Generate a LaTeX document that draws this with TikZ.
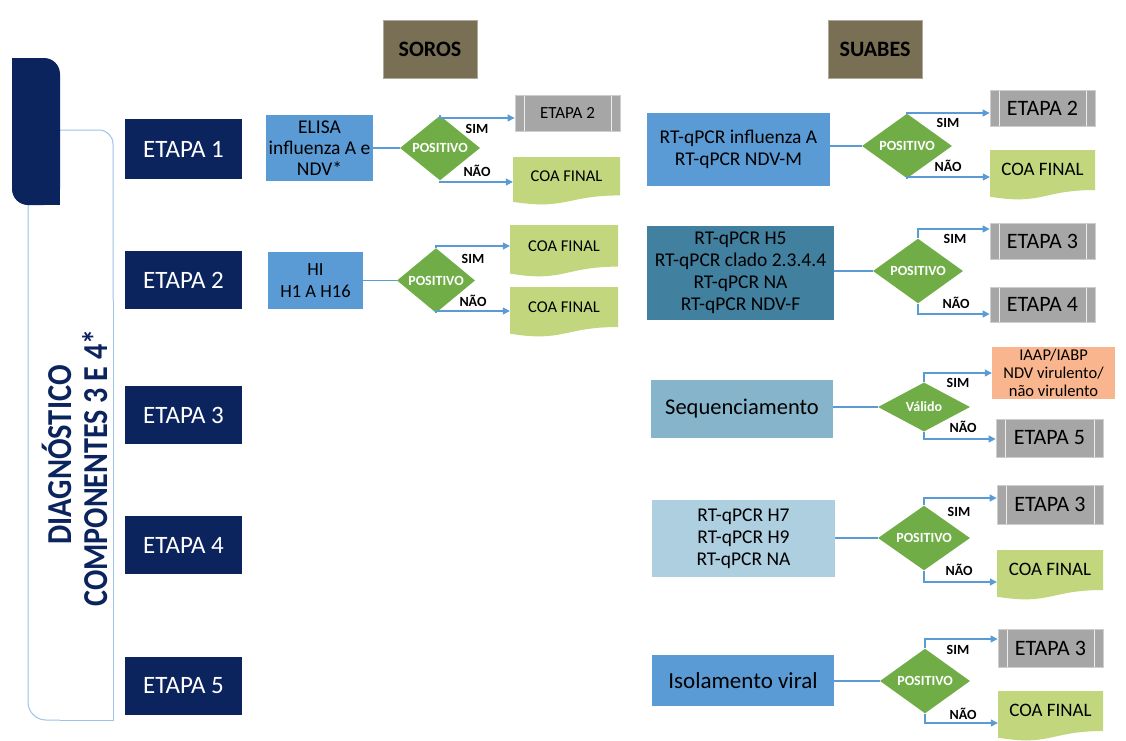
\documentclass[tikz,border=0pt]{standalone}
\usepackage{fontspec}
\setmainfont{Carlito}
\usetikzlibrary{shapes.geometric,arrows.meta,calc}
\definecolor{navy}{RGB}{12,36,94}
\definecolor{olivebox}{RGB}{120,111,85}
\definecolor{mblue}{RGB}{91,155,213}
\definecolor{tblue}{RGB}{65,128,158}
\definecolor{sblue}{RGB}{134,181,203}
\definecolor{lblue}{RGB}{174,207,224}
\definecolor{dgreen}{RGB}{112,173,71}
\definecolor{lgreen}{RGB}{194,214,126}
\definecolor{gbox}{RGB}{166,166,166}
\definecolor{salmon}{RGB}{248,181,142}
\definecolor{conn}{RGB}{91,155,213}
\definecolor{outl}{RGB}{157,195,230}
\newcommand\fsz[2]{\fontsize{#1}{#2}\selectfont}
\tikzset{
  etapa/.style={fill=navy, text=white, minimum width=117pt, minimum height=58pt, inner sep=0pt, font=\fsz{25}{30}},
  hdr/.style={fill=olivebox, draw=olivebox!60!white, line width=0.6pt, minimum width=94pt, minimum height=58pt, inner sep=0pt, font=\fsz{22}{26}\bfseries},
  test/.style={inner sep=0pt, align=center, text=black},
  dec/.style={diamond, fill=dgreen, text=white, inner sep=0pt, font=\fsz{14}{16}\bfseries},
  yn/.style={inner sep=0pt, font=\fsz{14}{17}\bfseries, text=black},
  graybox/.style={fill=gbox, draw=gbox!55!white, line width=0.8pt, inner sep=0pt,
    path picture={
      \draw[white!80!gbox, line width=0.9pt] ([xshift=9pt]path picture bounding box.north west) -- ([xshift=9pt]path picture bounding box.south west);
      \draw[white!80!gbox, line width=0.9pt] ([xshift=-9pt]path picture bounding box.north east) -- ([xshift=-9pt]path picture bounding box.south east);}},
  coa/.style={fill=white, inner sep=0pt, text depth=10pt,
    path picture={
      \fill[lgreen] (path picture bounding box.north west) -- (path picture bounding box.north east)
        -- ($(path picture bounding box.north east)!0.80!(path picture bounding box.south east)$)
        .. controls ($(path picture bounding box.north)!0.80!(path picture bounding box.south)$)
        and ($(path picture bounding box.north)!1.107!(path picture bounding box.south)$)
        .. ($(path picture bounding box.north west)!0.934!(path picture bounding box.south west)$) -- cycle;}},
  ln/.style={draw=conn, line width=1.1pt},
  arr/.style={draw=conn, line width=1.1pt, -{Triangle[length=7pt,width=7pt]}}
}
\begin{document}
\begin{tikzpicture}[x=1pt,y=-1pt]
\useasboundingbox (0,0) rectangle (1126,740);
\fill[white] (0,0) rectangle (1126,740);

% left panel
\draw[outl, line width=1pt, rounded corners=14pt] (60,130) -- (113,130) -- (113,300);
\draw[outl, line width=1pt] (113,300) -- (113,720) -- (60,720);
\draw[outl, line width=1pt, rounded corners=18pt] (60,720) -- (28,720) -- (28,205);
\fill[navy, rounded corners=16pt] (12,58) rectangle (60,205);
\fill[navy] (12,58) rectangle (35,90);
\fill[navy] (40,180) rectangle (60,205);
\node[rotate=90, text=navy, inner sep=0pt, font=\fsz{35}{40}\bfseries] (t1) at (57,455) {\scalebox{0.87}[1]{DIAGNÓSTICO}};
\node[rotate=90, text=navy, inner sep=0pt, font=\fsz{35}{40}\bfseries] (t2) at (95,468) {\scalebox{0.86}[1]{COMPONENTES 3 E 4*}};

% etapas
\node[etapa, minimum height=60pt] (e1) at (183.5,149) {ETAPA 1};
\node[etapa] (e2) at (183.5,280) {ETAPA 2};
\node[etapa] (e3) at (183.5,415) {ETAPA 3};
\node[etapa] (e4) at (183.5,545) {ETAPA 4};
\node[etapa] (e5) at (183.5,686) {ETAPA 5};

% headers
\node[hdr] (soros) at (430,49) {SOROS};
\node[hdr] (suabes) at (875,49) {SUABES};

% ---- SOROS row 1
\node[test, fill=mblue, minimum width=107pt, minimum height=66pt, font=\fsz{19.5}{21}] (b1) at (319.5,148) {ELISA\\influenza A e\\NDV*};
\node[dec, minimum width=80pt, minimum height=48pt] (d1) at (440,148) {POSITIVO};
\node[graybox, minimum width=105pt, minimum height=36pt, font=\fsz{17}{20}] (g1) at (567.5,113) {ETAPA 2};
\node[coa, minimum width=107pt, minimum height=48pt, font=\fsz{16.5}{20}, text height=10.6pt] (c1) at (566.5,181) {COA FINAL};
\draw[ln] (b1.east) -- (d1.west);
\draw[arr] (d1.north) |- ([yshift=-5pt]g1.west);
\draw[arr] (d1.south) |- ([yshift=-1pt]c1.west);
\node[yn] (y1) at (477,129) {SIM};
\node[yn] (n1) at (477,171) {NÃO};

% ---- SOROS row 2
\node[test, fill=mblue, minimum width=95pt, minimum height=57pt, font=\fsz{18.5}{22}] (b2) at (315.5,280.5) {HI\\H1 A H16};
\node[dec, minimum width=78pt, minimum height=50pt] (d2) at (436,280.5) {POSITIVO};
\node[coa, minimum width=108pt, minimum height=52pt, font=\fsz{16.5}{20}, text height=10.6pt] (c2a) at (564,251) {COA FINAL};
\node[coa, minimum width=108pt, minimum height=50pt, font=\fsz{16.5}{20}, text height=10.6pt] (c2b) at (564,312) {COA FINAL};
\draw[ln] (b2.east) -- (d2.west);
\draw[arr] (d2.north) |- ([yshift=5pt]c2a.west);
\draw[arr] (d2.south) |- ([yshift=1pt]c2b.west);
\node[yn] (y2) at (473,259) {SIM};
\node[yn] (n2) at (473,301) {NÃO};

% ---- SUABES row 1
\node[test, fill=mblue, minimum width=183pt, minimum height=73pt, font=\fsz{19.5}{22}] (s1) at (738.5,149.5) {RT-qPCR influenza A\\RT-qPCR NDV-M};
\node[dec, minimum width=90pt, minimum height=50pt] (ds1) at (907,146) {POSITIVO};
\node[graybox, minimum width=105pt, minimum height=36pt, font=\fsz{22}{26}] (sg1) at (1042.5,108) {ETAPA 2};
\node[coa, minimum width=105pt, minimum height=50pt, font=\fsz{19}{23}, text height=12.2pt, text depth=11pt] (sc1) at (1042.5,175) {COA FINAL};
\draw[ln] (ds1.west) -- (ds1.west -| s1.east);
\draw[arr] (ds1.north) |- ([yshift=-5pt]sg1.west);
\draw[arr] (ds1.south) |- ([yshift=-2pt]sc1.west);
\node[yn] (y3) at (948,123) {SIM};
\node[yn] (n3) at (948,166) {NÃO};

% ---- SUABES row 2
\node[test, fill=tblue, minimum width=187pt, minimum height=94pt, font=\fsz{19.5}{22}] (s2) at (740.5,273) {RT-qPCR H5\\RT-qPCR clado 2.3.4.4\\RT-qPCR NA\\RT-qPCR NDV-F};
\node[dec, minimum width=90pt, minimum height=55pt] (ds2) at (918,271) {POSITIVO};
\node[graybox, minimum width=105pt, minimum height=36pt, font=\fsz{22}{26}] (sg2a) at (1042.5,241) {ETAPA 3};
\node[graybox, minimum width=105pt, minimum height=35pt, font=\fsz{22}{26}] (sg2b) at (1042.5,304.5) {ETAPA 4};
\draw[ln] (ds2.west) -- (ds2.west -| s2.east);
\draw[arr] (ds2.north) |- ([yshift=12pt]sg2a.west);
\draw[arr] (ds2.south) |- ([yshift=-9.5pt]sg2b.west);
\node[yn] (y4) at (955,239) {SIM};
\node[yn] (n4) at (956,303) {NÃO};

% ---- SUABES row 3
\node[test, fill=sblue, minimum width=182pt, minimum height=58pt, font=\fsz{22.5}{26}] (s3) at (742,409) {Sequenciamento};
\node[dec, minimum width=92pt, minimum height=49pt] (ds3) at (924,407) {Válido};
\node[test, fill=salmon, minimum width=123pt, minimum height=52pt, font=\fsz{16.5}{18}] (ia) at (1053.5,373) {IAAP/IABP\\NDV virulento/\\não virulento};
\node[graybox, minimum width=107pt, minimum height=38pt, font=\fsz{22}{26}] (sg3) at (1049.5,438) {ETAPA 5};
\draw[ln] (ds3.west) -- (ds3.west -| s3.east);
\draw[arr] (ds3.north) |- (ia.west);
\draw[arr] (ds3.south) |- ([yshift=-1pt]sg3.west);
\node[yn] (y5) at (958,383) {SIM};
\node[yn] (n5) at (963,427) {NÃO};

% ---- SUABES row 4
\node[test, fill=lblue, minimum width=183pt, minimum height=77pt, font=\fsz{19.5}{22}] (s4) at (743.5,538.5) {RT-qPCR H7\\RT-qPCR H9\\RT-qPCR NA};
\node[dec, minimum width=92pt, minimum height=57pt] (ds4) at (924,538) {POSITIVO};
\node[graybox, minimum width=106pt, minimum height=39pt, font=\fsz{22}{26}] (sg4) at (1050,504.5) {ETAPA 3};
\node[coa, minimum width=106pt, minimum height=50pt, font=\fsz{19}{23}, text height=12.2pt, text depth=11pt] (sc4) at (1050,575) {COA FINAL};
\draw[ln] (ds4.west) -- (ds4.west -| s4.east);
\draw[arr] (ds4.north) |- ([yshift=6.5pt]sg4.west);
\draw[arr] (ds4.south) |- ([yshift=-7pt]sc4.west);
\node[yn] (y6) at (959,512) {SIM};
\node[yn] (n6) at (959,570) {NÃO};

% ---- SUABES row 5
\node[test, fill=mblue, minimum width=182pt, minimum height=51pt, font=\fsz{23}{27}] (s5) at (743,680.5) {Isolamento viral};
\node[dec, minimum width=90pt, minimum height=56pt] (ds5) at (925,681) {POSITIVO};
\node[graybox, minimum width=105pt, minimum height=38pt, font=\fsz{22}{26}] (sg5) at (1050.5,648) {ETAPA 3};
\node[coa, minimum width=105pt, minimum height=50pt, font=\fsz{19}{23}, text height=12.2pt, text depth=11pt] (sc5) at (1050.5,716) {COA FINAL};
\draw[ln] (ds5.west) -- (ds5.west -| s5.east);
\draw[arr] (ds5.north) |- ([yshift=9pt]sg5.west);
\draw[arr] (ds5.south) |- ([yshift=-7pt]sc5.west);
\node[yn] (y7) at (958,650) {SIM};
\node[yn] (n7) at (963,714) {NÃO};
\end{tikzpicture}
\end{document}
